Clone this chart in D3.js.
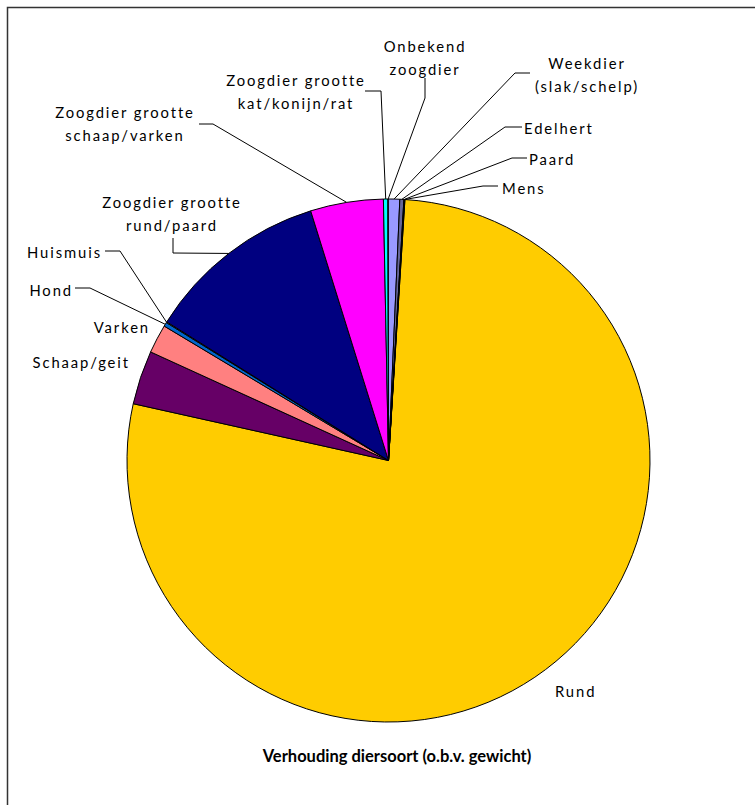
<!DOCTYPE html>
<html lang="nl">
<head>
<meta charset="UTF-8">
<title>Verhouding diersoort</title>
<style>
  body { margin: 0; background: #fff; }
  .lbl { font-family: Lato, "Open Sans", sans-serif; font-size: 14.8px; letter-spacing: 1.9px; fill: #000; }
  .title { font-family: Lato, "Open Sans", sans-serif; font-size: 16.5px; font-weight: bold; fill: #000; }
  .slice { stroke: #000; stroke-width: 1; }
  .leader { fill: none; stroke: #000; stroke-width: 1; }
</style>
</head>
<body>
<svg id="chart"></svg>
<script src="https://d3js.org/d3.v7.min.js"></script>
<script>
// data (percent of weight), in the order of the sheet
var categories = ['Rund', 'Schaap/geit', 'Varken', 'Hond', 'Huismuis',
  'Zoogdier grootte rund/paard', 'Zoogdier grootte schaap/varken',
  'Zoogdier grootte kat/konijn/rat', 'Onbekend zoogdier',
  'Weekdier (slak/schelp)', 'Edelhert', 'Paard', 'Mens']
var values = [77.5, 3.33, 1.78, 0.25, 0.05, 11.3, 4.5, 0.28, 0.02, 0.7, 0.25, 0.03, 0.03]
var colors = ['#FFCC00', '#660066', '#FF8080', '#0066CC', '#CCCCFF', '#000080', '#FF00FF',
  '#00FFFF', '#800080', '#9999FF', '#666699', '#800000', '#008080']
var labelLines = [['Rund'], ['Schaap/geit'], ['Varken'], ['Hond'], ['Huismuis'],
  ['Zoogdier grootte', 'rund/paard'], ['Zoogdier grootte', 'schaap/varken'],
  ['Zoogdier grootte', 'kat/konijn/rat'], ['Onbekend', 'zoogdier'],
  ['Weekdier', '(slak/schelp)'], ['Edelhert'], ['Paard'], ['Mens']]
var title = 'Verhouding diersoort (o.b.v. gewicht)'

// label placement: x, first baseline, anchor, leader elbow points
var labelPos = [
  { x: 555, y: 697, a: 'start', leader: null },
  { x: 130, y: 368, a: 'end', leader: null },
  { x: 150, y: 333, a: 'end', leader: null },
  { x: 73, y: 296, a: 'end', leader: [[75, 288], [90, 288]] },
  { x: 102, y: 258, a: 'end', leader: [[105, 251], [120, 251]] },
  { x: 172, y: 208, a: 'middle', leader: [[173, 238], [173, 253]] },
  { x: 125, y: 118, a: 'middle', leader: [[199, 124], [213, 124]] },
  { x: 296, y: 86, a: 'middle', leader: [[365, 91], [381, 91]] },
  { x: 425, y: 52, a: 'middle', leader: [[425, 78], [425, 98]] },
  { x: 587, y: 69, a: 'middle', leader: [[530, 73], [515, 73]] },
  { x: 524, y: 134, a: 'start', leader: [[522, 127], [505, 127]] },
  { x: 529, y: 165, a: 'start', leader: [[527, 158], [512, 158]] },
  { x: 502, y: 194, a: 'start', leader: [[498, 186], [483, 186]] }
]

var W = 755, H = 805
var cx = 388.5, cy = 460.5, r = 261.5
var startDeg = 3.6
var lineGap = 23

var svg = d3.select('#chart').attr('width', W).attr('height', H)

// outer frame, cut off on the right and bottom like the original
svg.append('rect')
  .attr('x', 7.5).attr('y', 7.5)
  .attr('width', 800).attr('height', 850)
  .attr('fill', 'none').attr('stroke', '#333').attr('stroke-width', 1.5)

var start = startDeg * Math.PI / 180
var pie = d3.pie().value(function (d) { return d }).sort(null)
  .startAngle(start).endAngle(start + 2 * Math.PI)
var arcs = pie(values)

var arc = d3.arc().innerRadius(0).outerRadius(r)
var rim = d3.arc().innerRadius(r).outerRadius(r)

var g = svg.append('g').attr('transform', 'translate(' + cx + ',' + cy + ')')
g.selectAll('path.slice')
  .data(arcs)
  .enter()
  .append('path')
  .attr('class', 'slice')
  .attr('d', arc)
  .attr('fill', function (d, i) { return colors[i] })

// leader lines
var line = d3.line()
svg.selectAll('path.leader')
  .data(arcs.filter(function (d, i) { return labelPos[i].leader }))
  .enter()
  .append('path')
  .attr('class', 'leader')
  .attr('d', function (d) {
    var p = rim.centroid(d)
    var pts = labelPos[d.index].leader.concat([[cx + p[0], cy + p[1]]])
    return line(pts)
  })

// labels
var lbl = svg.selectAll('text.lbl')
  .data(categories)
  .enter()
  .append('text')
  .attr('class', 'lbl')
  .attr('text-anchor', function (d, i) { return labelPos[i].a })
lbl.each(function (d, i) {
  var t = d3.select(this)
  labelLines[i].forEach(function (s, k) {
    t.append('tspan')
      .attr('x', labelPos[i].x)
      .attr('y', labelPos[i].y + k * lineGap)
      .text(s)
  })
})

svg.append('text')
  .attr('class', 'title')
  .attr('x', 397).attr('y', 762)
  .attr('text-anchor', 'middle')
  .text(title)
</script>
</body>
</html>
